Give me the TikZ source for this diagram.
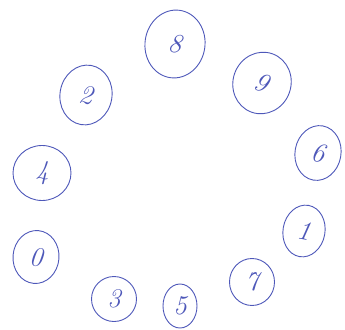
\documentclass[tikz,border=0pt]{standalone}
\usetikzlibrary{shapes.geometric}
\definecolor{pen}{RGB}{78,88,185}
\begin{document}
\begin{tikzpicture}[x=1pt,y=-1pt,
  numring/.style={ellipse,draw=pen,line width=0.9pt,inner sep=0pt,
    text=pen,font=\fontsize{27}{27}\selectfont\itshape},
]
\useasboundingbox (0,0) rectangle (345,329);
\node[numring,minimum width=60,minimum height=68,rotate=-8] (n8) at (175,44) {8};
\node[numring,minimum width=58,minimum height=62,rotate=-20] (n9) at (262,83) {9};
\node[numring,minimum width=52,minimum height=60,rotate=-10] (n2) at (86,95) {2};
\node[numring,minimum width=58,minimum height=55] (n4) at (42,173) {4};
\node[numring,minimum width=46,minimum height=55,rotate=-10] (n6) at (318,153) {6};
\node[numring,minimum width=42,minimum height=52,rotate=-10] (n1) at (304,231) {1};
\node[numring,minimum width=45,minimum height=47] (n7) at (252,282) {7};
\node[numring,minimum width=46,minimum height=53,rotate=-5] (n0) at (36,257) {0};
\node[numring,minimum width=45,minimum height=45] (n3) at (114,299) {3};
\node[numring,minimum width=34,minimum height=44] (n5) at (180,306) {5};
\end{tikzpicture}
\end{document}
